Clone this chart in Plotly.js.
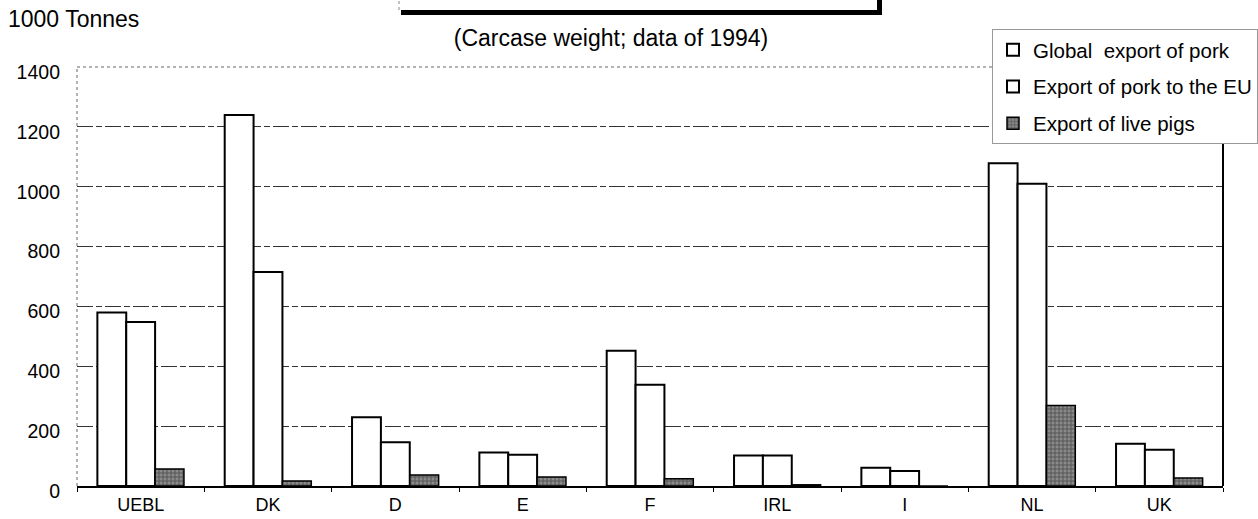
<!DOCTYPE html>
<html>
<head>
<meta charset="utf-8">
<script src="https://cdn.plot.ly/plotly-3.0.1.min.js"></script>
<style>html,body{margin:0;padding:0;background:#fff;}#chart{width:1258px;height:519px;}</style>
</head>
<body>
<div id="chart"></div>
<script>
const categories = ['UEBL', 'DK', 'D', 'E', 'F', 'IRL', 'I', 'NL', 'UK'];
const globalExport = [580, 1240, 230, 112, 452, 102, 61, 1078, 141];
const exportToEU = [548, 715, 146, 104, 338, 102, 50, 1010, 121];
const livePigs = [57, 17, 37, 30, 24, 4, 0, 269, 27];
const seriesNames = ['Global  export of pork', 'Export of pork to the EU', 'Export of live pigs'];
const yTicks = [0, 200, 400, 600, 800, 1000, 1200, 1400];

const FONT = '"Liberation Sans", Arial, sans-serif';

const traces = [
  {
    type: 'bar', name: seriesNames[0], x: categories, y: globalExport, legendgroup: 'a',
    marker: {color: '#ffffff', line: {color: '#000', width: 2}}
  },
  {
    type: 'bar', name: seriesNames[1], x: categories, y: exportToEU, legendgroup: 'b',
    marker: {color: '#ffffff', line: {color: '#000', width: 2}}
  },
  {
    type: 'bar', name: seriesNames[2], x: categories, y: livePigs, legendgroup: 'c',
    marker: {color: '#777', line: {color: '#000', width: 1.5},
      pattern: {shape: '+', size: 4, solidity: 0.45, fgcolor: '#222', bgcolor: '#8a8a8a', fillmode: 'overlay'}}
  }
];

const layout = {
  width: 1258, height: 519,
  paper_bgcolor: '#fff', plot_bgcolor: '#fff',
  font: {family: FONT, color: '#000', size: 18},
  margin: {l: 77, r: 35, t: 67, b: 33, autoexpand: false},
  barmode: 'group', bargap: 0.32, bargroupgap: 0,
  title: {
    text: '(Carcase weight; data of 1994)',
    font: {family: FONT, size: 23, color: '#000'},
    x: 611 / 1258, xref: 'container', xanchor: 'center',
    y: 1 - 38 / 519, yref: 'container', yanchor: 'middle'
  },
  xaxis: {
    type: 'category',
    showline: true, linecolor: '#000', linewidth: 2,
    ticks: 'outside', tickson: 'boundaries', ticklen: 4, tickcolor: '#000',
    ticklabelstandoff: 1,
    tickfont: {family: FONT, size: 18, color: '#000'},
    showgrid: false, zeroline: false, fixedrange: true
  },
  yaxis: {
    range: [0, 1400], tickvals: yTicks, ticktext: yTicks.map(String),
    showgrid: true, gridcolor: '#333', gridwidth: 1, griddash: '16px,3px,6px,3px',
    zeroline: false, showline: false, ticks: '',
    ticklabelstandoff: 16, ticklabelshift: 5,
    tickfont: {family: FONT, size: 19.5, color: '#000'},
    fixedrange: true
  },
  legend: {
    x: (992 - 77) / 1146, xref: 'paper', xanchor: 'left',
    y: (486 - 29) / 419, yref: 'paper', yanchor: 'top',
    bgcolor: '#fff', bordercolor: '#999', borderwidth: 1,
    font: {family: FONT, size: 20.5, color: '#000'},
    traceorder: 'grouped', tracegroupgap: 7
  },
  showlegend: true,
  annotations: [
    {
      text: '1000 Tonnes', xref: 'paper', yref: 'paper',
      x: (6 - 77) / 1146, y: (486 - 19) / 419, xanchor: 'left', yanchor: 'middle',
      showarrow: false, font: {family: FONT, size: 23, color: '#000'}
    }
  ],
  shapes: [
    {type: 'line', xref: 'paper', yref: 'paper', x0: 0, x1: 0, y0: 0, y1: 1, line: {color: '#666', width: 1, dash: 'dot'}},
    {type: 'line', xref: 'paper', yref: 'paper', x0: 0, x1: 1, y0: 1, y1: 1, line: {color: '#666', width: 1, dash: 'dot'}},
    {type: 'line', xref: 'paper', yref: 'paper', x0: 1, x1: 1, y0: 0, y1: 1, line: {color: '#000', width: 2}},
    {type: 'line', xref: 'paper', yref: 'paper', x0: (401 - 77) / 1146, x1: (882 - 77) / 1146, y0: (486 - 12.5) / 419, y1: (486 - 12.5) / 419, line: {color: '#000', width: 5}},
    {type: 'line', xref: 'paper', yref: 'paper', x0: (879.5 - 77) / 1146, x1: (879.5 - 77) / 1146, y0: (486 - 15) / 419, y1: 486 / 419, line: {color: '#000', width: 5}},
    {type: 'line', xref: 'paper', yref: 'paper', x0: (399 - 77) / 1146, x1: (399 - 77) / 1146, y0: (486 - 10) / 419, y1: 486 / 419, line: {color: '#888', width: 1, dash: 'dot'}}
  ]
};

Plotly.newPlot('chart', traces, layout, {displayModeBar: false, staticPlot: true});
</script>
</body>
</html>
